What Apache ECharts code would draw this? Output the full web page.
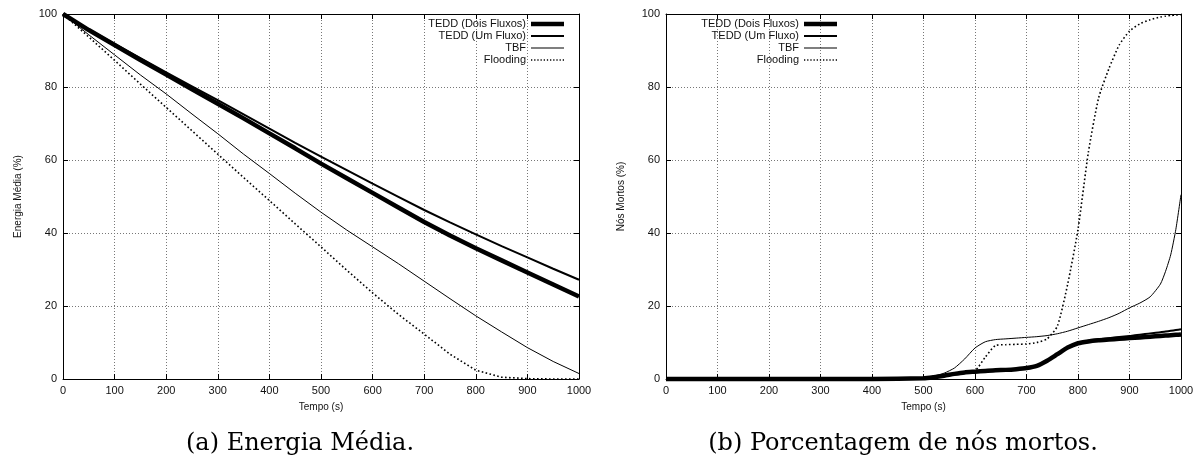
<!DOCTYPE html>
<html>
<head>
<meta charset="utf-8">
<script src="https://cdn.jsdelivr.net/npm/echarts@6/dist/echarts.min.js"></script>
<style>
html,body{margin:0;padding:0;background:#fff;}
#chart{width:1202px;height:461px;}
</style>
</head>
<body>
<div id="chart"></div>
<script>
// ---- Data ----
const seriesNames = ['TEDD (Dois Fluxos)', 'TEDD (Um Fluxo)', 'TBF', 'Flooding'];
const xTicks = [0, 100, 200, 300, 400, 500, 600, 700, 800, 900, 1000];
const yTicks = [0, 20, 40, 60, 80, 100];

// (a) Energia Média
const timeA = [0, 50, 100, 150, 200, 250, 300, 350, 400, 450, 500, 550, 600, 650, 700, 750, 800, 850, 900, 950, 1000];
const energiaDois = [100, 95.6, 91.5, 87.4, 83.4, 79.4, 75.4, 71.4, 67.3, 63.2, 59.0, 55.0, 51.0, 47.0, 43.0, 39.3, 35.8, 32.5, 29.2, 25.9, 22.6];
const energiaUm = [100, 95.8, 91.8, 87.9, 84.0, 80.2, 76.4, 72.5, 68.6, 64.7, 60.9, 57.2, 53.5, 49.9, 46.3, 42.9, 39.6, 36.4, 33.3, 30.2, 27.2];
const energiaTBF = [100, 94.3, 88.8, 83.3, 78.1, 72.6, 67.2, 61.6, 56.3, 50.9, 45.7, 40.8, 36.2, 31.6, 26.8, 22.0, 17.3, 12.9, 8.6, 4.8, 1.5];
const energiaFlood = [100, 93.7, 87.3, 80.8, 74.4, 68.0, 61.6, 55.2, 48.9, 42.5, 36.2, 29.8, 23.6, 17.7, 12.3, 6.8, 2.4, 0.5, 0.1, 0, 0];

// (b) Porcentagem de nós mortos
const timeB = [0, 100, 200, 300, 400, 500, 520, 540, 560, 580, 600, 620, 640, 660, 680, 700, 720, 740, 760, 780, 800, 820, 840, 860, 880, 900, 920, 940, 960, 970, 980, 990, 1000];
const mortosDois = [0, 0, 0, 0, 0, 0.2, 0.5, 0.9, 1.4, 1.8, 2.0, 2.2, 2.4, 2.5, 2.7, 3.0, 3.6, 5.0, 6.8, 8.6, 9.8, 10.3, 10.6, 10.8, 11.0, 11.2, 11.4, 11.6, 11.8, 11.9, 12.0, 12.1, 12.2];
const mortosUm = [0, 0, 0, 0, 0, 0.2, 0.5, 0.9, 1.4, 1.8, 2.0, 2.2, 2.4, 2.5, 2.7, 3.0, 3.6, 5.0, 6.8, 8.6, 9.9, 10.5, 10.9, 11.2, 11.5, 11.8, 12.1, 12.5, 12.8, 13.0, 13.2, 13.4, 13.6];
const mortosTBF = [0, 0, 0, 0, 0, 0.3, 0.8, 1.6, 3.0, 5.5, 8.5, 10.2, 10.8, 11.0, 11.2, 11.4, 11.6, 11.9, 12.4, 13.1, 14.0, 14.9, 15.8, 16.8, 18.0, 19.5, 20.8, 22.5, 26.0, 29.5, 34.0, 41.0, 50.5];
const mortosFlood = [0, 0, 0, 0, 0, 0.1, 0.5, 1.0, 1.3, 1.6, 2.2, 6.0, 9.2, 9.4, 9.5, 9.6, 10.0, 11.0, 14.5, 26.0, 41.0, 62.0, 77.0, 85.0, 91.5, 95.3, 97.3, 98.4, 99.2, 99.4, 99.6, 99.7, 99.8];

// ---- Styles ----
const styles = [
  {width: 4.5, type: 'solid'},
  {width: 2, type: 'solid'},
  {width: 1, type: 'solid'},
  {width: 1.6, type: [1.6, 2.4]}
];
const legendIcons = [
  'rect',
  'rect',
  'rect',
  'path://M0,0h2v2h-2zM5,0h2v2h-2zM10,0h2v2h-2zM15,0h2v2h-2zM20,0h2v2h-2zM25,0h2v2h-2zM30,0h2v2h-2zM35,0h2v2h-2zM40,0h2v2h-2zM45,0h2v2h-2zM50,0h2v2h-2z'
];
const sansFont = 'Liberation Sans, Arial, sans-serif';
const tickFont = {fontFamily: sansFont, fontSize: 11, color: '#111'};
const gridLine = {show: true, lineStyle: {color: '#777', type: [1, 2], width: 1}};
const frameLine = {show: true, onZero: false, lineStyle: {color: '#000', width: 1}};
const innerTick = {show: true, inside: true, length: 5, lineStyle: {color: '#000'}};

function zip(xs, ys) { return xs.map((x, i) => [x, ys[i]]); }

function axesFor(gi, yName, yGap) {
  const xs = [
    {gridIndex: gi, type: 'value', min: 0, max: 1000, interval: 100, position: 'bottom',
     name: 'Tempo (s)', nameLocation: 'middle', nameGap: 23,
     nameTextStyle: {fontFamily: sansFont, fontSize: 10, color: '#111'},
     axisLine: frameLine, axisTick: innerTick,
     axisLabel: Object.assign({margin: 6, formatter: v => String(v)}, tickFont), splitLine: gridLine},
    {gridIndex: gi, type: 'value', min: 0, max: 1000, interval: 100, position: 'top',
     axisLine: frameLine, axisTick: innerTick,
     axisLabel: {show: false}, splitLine: {show: false}}
  ];
  const ys = [
    {gridIndex: gi, type: 'value', min: 0, max: 100, interval: 20, position: 'left',
     name: yName, nameLocation: 'middle', nameGap: yGap, nameRotate: 90,
     nameTextStyle: {fontFamily: sansFont, fontSize: 10, color: '#111'},
     axisLine: frameLine, axisTick: innerTick,
     axisLabel: Object.assign({margin: 6, formatter: v => String(v)}, tickFont), splitLine: gridLine},
    {gridIndex: gi, type: 'value', min: 0, max: 100, interval: 20, position: 'right',
     axisLine: frameLine, axisTick: innerTick,
     axisLabel: {show: false}, splitLine: {show: false}}
  ];
  return {xs, ys};
}

const a = axesFor(0, 'Energia Média (%)', 40);
const b = axesFor(1, 'Nós Mortos (%)', 40);

function mkSeries(name, idx, xs, ys, axisIdx, smooth) {
  return {
    name: name, type: 'line', xAxisIndex: axisIdx, yAxisIndex: axisIdx,
    data: zip(xs, ys), symbol: 'none', showSymbol: false, smooth: smooth,
    clip: false, animation: false,
    lineStyle: {color: '#000', width: styles[idx].width, type: styles[idx].type},
    itemStyle: {color: '#000'}
  };
}

const seriesA = [energiaDois, energiaUm, energiaTBF, energiaFlood];
const seriesB = [mortosDois, mortosUm, mortosTBF, mortosFlood];
const series = [];
seriesNames.forEach((n, i) => series.push(mkSeries(n, i, timeA, seriesA[i], 0, false)));
seriesNames.forEach((n, i) => series.push(mkSeries(n, i, timeB, seriesB[i], 2, 0.2)));

function legendsAt(rightPx, centers) {
  return seriesNames.map((n, i) => ({
    data: [n], right: rightPx, top: centers[i] - 7, align: 'right', orient: 'vertical',
    padding: 0, itemGap: 0, itemWidth: 33, itemHeight: styles[i].width,
    icon: legendIcons[i], itemStyle: {color: '#000', borderWidth: 0},
    selectedMode: false,
    textStyle: {fontFamily: sansFont, fontSize: 11, color: '#111', lineHeight: 14}
  }));
}
const rowCenters = [24, 36, 48, 60];

const option = {
  backgroundColor: '#fff',
  animation: false,
  grid: [
    {left: 63, right: 623, top: 14, bottom: 82},
    {left: 666, right: 21, top: 14, bottom: 82}
  ],
  xAxis: [a.xs[0], a.xs[1], b.xs[0], b.xs[1]],
  yAxis: [a.ys[0], a.ys[1], b.ys[0], b.ys[1]],
  legend: legendsAt(1202 - 564, rowCenters).concat(legendsAt(1202 - 837, rowCenters)),
  series: series,
  graphic: [
    {type: 'text', x: 300, y: 444, style: {text: '(a) Energia Média.', font: '24px "DejaVu Serif", serif', fill: '#000', align: 'center', verticalAlign: 'middle'}},
    {type: 'text', x: 903, y: 444, style: {text: '(b) Porcentagem de nós mortos.', font: '24px "DejaVu Serif", serif', fill: '#000', align: 'center', verticalAlign: 'middle'}}
  ]
};

const chart = echarts.init(document.getElementById('chart'), null, {renderer: 'canvas'});
chart.setOption(option);
</script>
</body>
</html>
